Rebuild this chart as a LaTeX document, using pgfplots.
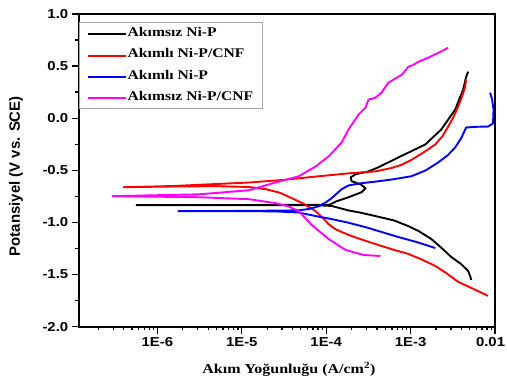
\documentclass[border=0pt]{standalone}
\usepackage{pgfplots}
\pgfplotsset{compat=1.18}
\usepackage{fontspec}
\setmainfont{Liberation Serif}
\newfontfamily\tickfont[FakeStretch=1.15]{Liberation Sans}
\newfontfamily\ylabfont{Liberation Sans}
\newfontfamily\serifst[FakeStretch=1.18]{Liberation Serif}
\usetikzlibrary{calc}
\definecolor{cred}{RGB}{255,0,0}
\definecolor{cblue}{RGB}{0,0,255}
\definecolor{cmag}{RGB}{255,0,255}
\begin{document}
\begin{tikzpicture}
\begin{axis}[
  scale only axis, width=418pt, height=314pt,
  xmin=-6.932, xmax=-2, ymin=-2, ymax=1,
  axis line style={line width=1.7pt},
  xtick={-6,-5,-4,-3,-2},
  xticklabels={1E-6,1E-5,1E-4,1E-3,0.01\hspace*{9pt}},
  minor xtick={-6.699,-6.523,-6.398,-6.301,-6.222,-6.155,-6.097,-6.046,
               -5.699,-5.523,-5.398,-5.301,-5.222,-5.155,-5.097,-5.046,
               -4.699,-4.523,-4.398,-4.301,-4.222,-4.155,-4.097,-4.046,
               -3.699,-3.523,-3.398,-3.301,-3.222,-3.155,-3.097,-3.046,
               -2.699,-2.523,-2.398,-2.301,-2.222,-2.155,-2.097,-2.046},
  ytick={-2,-1.5,-1,-0.5,0,0.5,1},
  yticklabels={-2.0,-1.5,-1.0,-0.5,0.0,0.5,1.0},
  minor ytick={-1.75,-1.25,-0.75,-0.25,0.25,0.75},
  tick align=outside,
  xtick pos=bottom, ytick pos=left,
  major tick length=7pt, minor tick length=3.5pt,
  every tick/.style={black, line width=1.3pt},
  tick label style={font=\tickfont\bfseries\fontsize{13}{15}\selectfont},
  xlabel={Akım Yoğunluğu (A/cm\textsuperscript{2})},
  xlabel style={at={(axis description cs:0.505,-0.137)}, anchor=center,
    font=\serifst\bfseries\fontsize{13.6}{16}\selectfont},
  ylabel={Potansiyel (V vs. SCE)},
  ylabel style={at={(axis description cs:-0.1507,0.481)}, anchor=center,
    font=\ylabfont\bfseries\fontsize{15}{18}\selectfont},
  legend cell align=left,
  legend style={at={(axis description cs:0,1)}, anchor=north west, yshift=-8pt,
    draw=gray!70, line width=0.6pt, fill=white,
    inner xsep=8pt, inner ysep=4pt, row sep=6.8pt,
    nodes={inner sep=1pt, text height=9.5pt, text depth=3pt},
    font=\serifst\bfseries\fontsize{13.3}{15}\selectfont},
  legend image code/.code={\draw[#1, line width=1.9pt] (0pt,-1pt) -- (38pt,-1pt);},
  every axis plot/.append style={line width=1.9pt, line join=round},
]
\addplot[black, line width=1.9pt] coordinates {
(-2.283,-1.552) (-2.292,-1.522) (-2.302,-1.500) (-2.319,-1.465) (-2.40,-1.400)
(-2.519,-1.331) (-2.64,-1.240) (-2.755,-1.159) (-2.90,-1.085) (-3.027,-1.035)
(-3.20,-0.980) (-3.416,-0.939) (-3.60,-0.905) (-3.735,-0.885) (-3.850,-0.860)
(-3.935,-0.842) (-4.10,-0.835) (-4.60,-0.834) (-5.40,-0.834) (-6.248,-0.834)
(-5.40,-0.833) (-4.50,-0.832) (-3.960,-0.830) (-3.888,-0.800) (-3.735,-0.758)
(-3.581,-0.710) (-3.534,-0.672) (-3.593,-0.634) (-3.699,-0.605) (-3.711,-0.567)
(-3.652,-0.538) (-3.499,-0.510) (-3.381,-0.471) (-3.145,-0.376) (-2.826,-0.252)
(-2.637,-0.108) (-2.472,0.083) (-2.378,0.274) (-2.342,0.398) (-2.319,0.446)
};
\addplot[cred, line width=1.9pt] coordinates {
(-2.083,-1.704) (-2.25,-1.640) (-2.437,-1.570) (-2.57,-1.490) (-2.708,-1.417)
(-2.87,-1.355) (-3.027,-1.302) (-3.20,-1.262) (-3.345,-1.226) (-3.52,-1.180)
(-3.699,-1.131) (-3.817,-1.092) (-3.90,-1.060) (-3.971,-1.016) (-4.05,-0.950)
(-4.124,-0.892) (-4.27,-0.820) (-4.407,-0.767) (-4.55,-0.715) (-4.714,-0.681)
(-4.914,-0.660) (-5.30,-0.652) (-5.80,-0.655) (-6.401,-0.662) (-5.80,-0.650)
(-5.268,-0.630) (-4.914,-0.617) (-4.525,-0.593) (-4.124,-0.560) (-3.735,-0.529)
(-3.416,-0.510) (-3.227,-0.478) (-3.10,-0.445) (-2.991,-0.400) (-2.85,-0.330)
(-2.708,-0.252) (-2.62,-0.170) (-2.555,-0.080) (-2.49,0.015) (-2.437,0.111)
(-2.39,0.210) (-2.354,0.302) (-2.342,0.369)
};
\addplot[cblue, line width=1.9pt] coordinates {
(-2.708,-1.245) (-2.92,-1.190) (-3.145,-1.140) (-3.35,-1.090) (-3.534,-1.045)
(-3.75,-1.000) (-3.935,-0.968) (-4.124,-0.939) (-4.324,-0.905) (-4.60,-0.894)
(-4.914,-0.892) (-5.752,-0.892) (-4.914,-0.889) (-4.324,-0.884) (-4.20,-0.870)
(-4.088,-0.844) (-4.00,-0.805) (-3.935,-0.767) (-3.817,-0.681) (-3.735,-0.645)
(-3.60,-0.625) (-3.381,-0.605) (-3.20,-0.585) (-2.991,-0.557) (-2.82,-0.500)
(-2.673,-0.424) (-2.56,-0.355) (-2.472,-0.280) (-2.40,-0.190) (-2.342,-0.089)
(-2.20,-0.082) (-2.083,-0.080) (-2.024,-0.051) (-2.018,0.083) (-2.035,0.180)
(-2.059,0.245)
};
\addplot[cmag, line width=1.9pt] coordinates {
(-3.357,-1.322) (-3.558,-1.312) (-3.770,-1.264) (-3.971,-1.159) (-4.171,-1.025)
(-4.324,-0.892) (-4.45,-0.845) (-4.60,-0.815) (-4.914,-0.777) (-5.504,-0.758)
(-6.531,-0.748) (-5.504,-0.730) (-4.914,-0.691) (-4.596,-0.615) (-4.45,-0.585)
(-4.324,-0.557) (-4.124,-0.462) (-3.971,-0.366) (-3.817,-0.232) (-3.735,-0.108)
(-3.617,0.035) (-3.534,0.102) (-3.499,0.178) (-3.416,0.197) (-3.345,0.245)
(-3.263,0.341) (-3.145,0.398) (-3.10,0.420) (-3.027,0.494) (-2.97,0.510)
(-2.909,0.541) (-2.791,0.580) (-2.673,0.627) (-2.555,0.675)
};
\legend{Akımsız Ni-P, Akımlı Ni-P/CNF, Akımlı Ni-P, Akımsız Ni-P/CNF}
\end{axis}
\pgfresetboundingbox
\path[use as bounding box] ($(current axis.south west)+(-79pt,-57pt)$) rectangle ($(current axis.south west)+(430pt,328pt)$);
\end{tikzpicture}
\end{document}
